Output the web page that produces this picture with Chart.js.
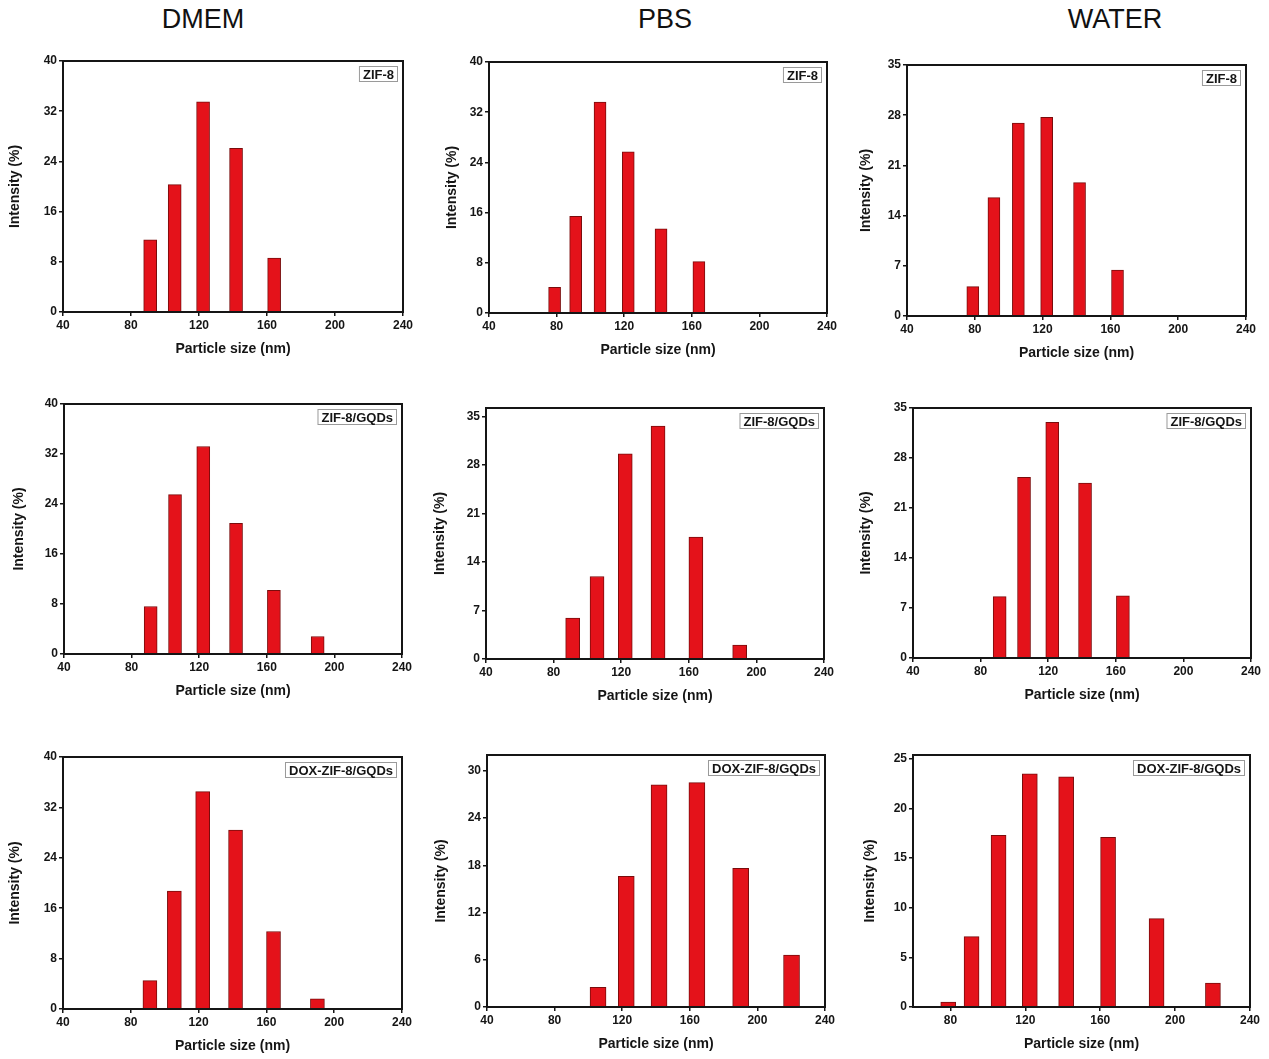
<!DOCTYPE html>
<html>
<head>
<meta charset="utf-8">
<script src="https://cdn.jsdelivr.net/npm/chart.js@4.4.1/dist/chart.umd.min.js"></script>
<style>
  body { margin: 0; background: #fff; width: 1269px; height: 1059px; position: relative; overflow: hidden; }
  .col-title { position: absolute; top: 4px; width: 200px; text-align: center; font: 27px "Liberation Sans", Arial, sans-serif; color: #111; }
  canvas { position: absolute; }
</style>
</head>
<body>
<div class="col-title" style="left:103px">DMEM</div>
<div class="col-title" style="left:565px">PBS</div>
<div class="col-title" style="left:1015px">WATER</div>

<script>
// DLS size bins (nm), shared by every panel
const sizeBins = [78.82, 91.28, 105.7, 122.4, 141.8, 164.2, 190.1, 220.2];

// intensity (%) per bin, null = no bar
const dmemZif8 = [null, 11.5, 20.3, 33.5, 26.1, 8.6, null, null];
const pbsZif8 = [4.1, 15.4, 33.6, 25.7, 13.4, 8.2, null, null];
const waterZif8 = [4.1, 16.5, 26.9, 27.7, 18.6, 6.4, null, null];

const dmemGqds = [null, 7.6, 25.5, 33.2, 20.9, 10.2, 2.8, null];
const pbsGqds = [null, 5.9, 11.9, 29.6, 33.6, 17.6, 2.0, null];
const waterGqds = [null, 8.6, 25.3, 33.0, 24.5, 8.7, null, null];

const dmemDox = [null, 4.5, 18.7, 34.5, 28.4, 12.3, 1.6, null];
const pbsDox = [null, null, 2.5, 16.6, 28.2, 28.5, 17.6, 6.6];
const waterDox = [0.5, 7.1, 17.3, 23.5, 23.2, 17.1, 8.9, 2.4];

// tick labels
const xTicksFull = [40, 80, 120, 160, 200, 240];
const xTicksShort = [80, 120, 160, 200, 240];
const yTicks40 = [0, 8, 16, 24, 32, 40];
const yTicks35 = [0, 7, 14, 21, 28, 35];
const yTicks30 = [0, 6, 12, 18, 24, 30];
const yTicks25 = [0, 5, 10, 15, 20, 25];

const panels = [
  { vals: dmemZif8,  tag: 'ZIF-8',          xMin: 40, xTicks: xTicksFull,  yMax: 40,   yTicks: yTicks40 },
  { vals: pbsZif8,   tag: 'ZIF-8',          xMin: 40, xTicks: xTicksFull,  yMax: 40,   yTicks: yTicks40 },
  { vals: waterZif8, tag: 'ZIF-8',          xMin: 40, xTicks: xTicksFull,  yMax: 35,   yTicks: yTicks35 },
  { vals: dmemGqds,  tag: 'ZIF-8/GQDs',     xMin: 40, xTicks: xTicksFull,  yMax: 40,   yTicks: yTicks40 },
  { vals: pbsGqds,   tag: 'ZIF-8/GQDs',     xMin: 40, xTicks: xTicksFull,  yMax: 36.2, yTicks: yTicks35 },
  { vals: waterGqds, tag: 'ZIF-8/GQDs',     xMin: 40, xTicks: xTicksFull,  yMax: 35,   yTicks: yTicks35 },
  { vals: dmemDox,   tag: 'DOX-ZIF-8/GQDs', xMin: 40, xTicks: xTicksFull,  yMax: 40,   yTicks: yTicks40 },
  { vals: pbsDox,    tag: 'DOX-ZIF-8/GQDs', xMin: 40, xTicks: xTicksFull,  yMax: 32,   yTicks: yTicks30 },
  { vals: waterDox,  tag: 'DOX-ZIF-8/GQDs', xMin: 60, xTicks: xTicksShort, yMax: 25.4, yTicks: yTicks25 },
];

// plot boxes on the page (l, t, r, b), y-axis width, bar width
const boxes = [
  { l: 63,  t: 61,  r: 403,  b: 312,  yw: 60, bw: 13 },
  { l: 489, t: 62,  r: 827,  b: 313,  yw: 49, bw: 12 },
  { l: 907, t: 65,  r: 1246, b: 316,  yw: 53, bw: 12 },
  { l: 64,  t: 404, r: 402,  b: 654,  yw: 57, bw: 13 },
  { l: 486, t: 408, r: 824,  b: 659,  yw: 58, bw: 14 },
  { l: 913, t: 408, r: 1251, b: 658,  yw: 59, bw: 13 },
  { l: 63,  t: 757, r: 402,  b: 1009, yw: 60, bw: 14 },
  { l: 487, t: 755, r: 825,  b: 1007, yw: 58, bw: 16 },
  { l: 913, t: 755, r: 1250, b: 1007, yw: 55, bw: 15 },
];

const FONT = '"Liberation Sans", Arial, sans-serif';
const INK = '#151515';

const framePlugin = {
  id: 'frame',
  afterDraw(chart) {
    const { ctx, chartArea: a } = chart;
    ctx.save();
    ctx.strokeStyle = INK;
    ctx.lineWidth = 2;
    ctx.strokeRect(a.left, a.top, a.right - a.left, a.bottom - a.top);
    ctx.restore();
  }
};

const tagPlugin = {
  id: 'tagBox',
  afterDraw(chart, args, opts) {
    const { ctx, chartArea: a } = chart;
    ctx.save();
    ctx.font = 'bold 13px ' + FONT;
    const w = ctx.measureText(opts.text).width + 8;
    const h = 16;
    const x = a.right - 5 - w, y = a.top + 5;
    ctx.fillStyle = '#fff';
    ctx.fillRect(x, y, w, h);
    ctx.strokeStyle = '#9a9a9a';
    ctx.lineWidth = 1;
    ctx.strokeRect(x + 0.5, y + 0.5, w - 1, h - 1);
    ctx.fillStyle = INK;
    ctx.textAlign = 'center';
    ctx.textBaseline = 'middle';
    ctx.fillText(opts.text, x + w / 2, y + h / 2 + 1);
    ctx.restore();
  }
};

function axisStyle() {
  return {
    grid: { display: true, drawOnChartArea: false, drawTicks: true, tickLength: 4, color: INK, lineWidth: 1.5, offset: false },
    border: { display: true, color: INK, width: 2 },
    ticks: { color: INK, padding: 2, font: { family: FONT, size: 12, weight: 'bold' } },
  };
}

function drawPanel(p, box) {
  const xH = 50, padT = 10, padR = 15;
  const cv = document.createElement('canvas');
  cv.width = box.yw + (box.r - box.l) + padR;
  cv.height = padT + (box.b - box.t) + xH;
  cv.style.left = (box.l - box.yw) + 'px';
  cv.style.top = (box.t - padT) + 'px';
  document.body.appendChild(cv);

  const points = sizeBins
    .map((x, i) => ({ x, y: p.vals[i] }))
    .filter(d => d.y !== null);

  new Chart(cv, {
    type: 'bar',
    data: {
      datasets: [{
        data: points,
        backgroundColor: 'rgb(228, 18, 26)',
        borderColor: '#7a0c0c',
        borderWidth: 1,
        barThickness: box.bw,
      }]
    },
    options: {
      responsive: false,
      animation: false,
      layout: { padding: { top: padT, right: padR, left: 0, bottom: 0 } },
      plugins: {
        legend: { display: false },
        tooltip: { enabled: false },
        tagBox: { text: p.tag },
      },
      scales: {
        x: {
          ...axisStyle(),
          type: 'linear',
          offset: false,
          min: p.xMin,
          max: 240,
          afterBuildTicks: s => { s.ticks = p.xTicks.map(v => ({ value: v })); },
          afterFit: s => { s.height = xH; },
          title: { display: true, text: 'Particle size (nm)', color: INK, padding: 4, font: { family: FONT, size: 14, weight: 'bold' } },
        },
        y: {
          ...axisStyle(),
          min: 0,
          max: p.yMax,
          afterBuildTicks: s => { s.ticks = p.yTicks.map(v => ({ value: v })); },
          afterFit: s => { s.width = box.yw; },
          title: { display: true, text: 'Intensity (%)', color: INK, padding: 4, font: { family: FONT, size: 14, weight: 'bold' } },
        }
      }
    },
    plugins: [framePlugin, tagPlugin]
  });
}

panels.forEach((p, i) => drawPanel(p, boxes[i]));
</script>
</body>
</html>
